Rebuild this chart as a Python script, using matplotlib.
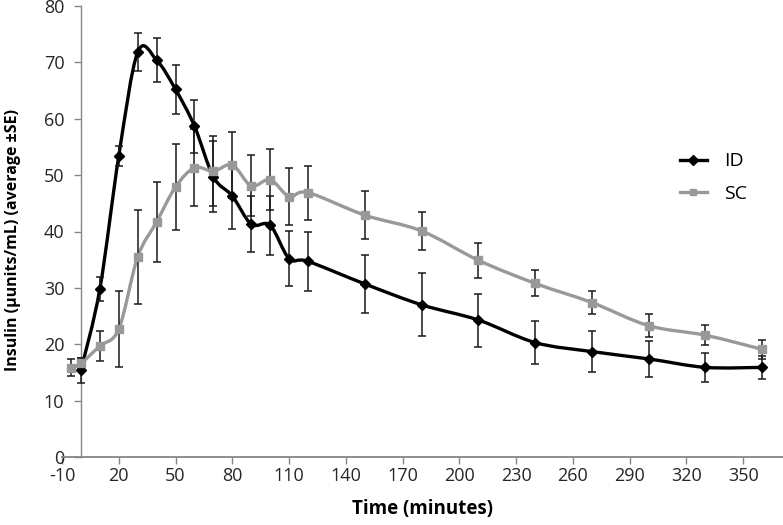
import numpy as np
import matplotlib
matplotlib.use('Agg')
import matplotlib.pyplot as plt
from matplotlib.path import Path
from matplotlib.patches import PathPatch
from matplotlib.lines import Line2D

plt.rcParams['font.family'] = ['Open Sans', 'DejaVu Sans']
plt.rcParams['axes.unicode_minus'] = False

BLACK = '#000000'
GREY = '#999999'
AXC = '#868686'

# ── Data ─────────────────────────────────────────────────────
id_time = [0, 10, 20, 30, 40, 50, 60, 70, 80, 90, 100, 110, 120,
           150, 180, 210, 240, 270, 300, 330, 360]
id_mean = [15.4, 29.8, 53.4, 71.8, 70.4, 65.2, 58.7, 49.7, 46.3, 41.3, 41.1,
           35.2, 34.7, 30.7, 27.0, 24.3, 20.3, 18.7, 17.4, 15.9, 15.9]
id_se = [2.2, 2.2, 1.8, 3.4, 3.9, 4.3, 4.7, 6.3, 5.8, 5.0, 5.2,
         4.9, 5.3, 5.2, 5.6, 4.7, 3.8, 3.7, 3.2, 2.6, 2.0]

sc_time = [-5, 0, 10, 20, 30, 40, 50, 60, 70, 80, 90, 100, 110, 120,
           150, 180, 210, 240, 270, 300, 330, 360]
sc_mean = [15.8, 16.6, 19.7, 22.7, 35.5, 41.7, 47.9, 51.3, 50.7, 51.8, 48.1,
           49.2, 46.2, 46.9, 42.9, 40.1, 34.9, 30.8, 27.4, 23.3, 21.6, 19.1]
sc_se = [1.5, 1.0, 2.7, 6.7, 8.3, 7.1, 7.6, 6.8, 6.2, 5.8, 5.4,
         5.4, 5.0, 4.8, 4.2, 3.4, 3.1, 2.3, 2.0, 2.0, 1.8, 1.7]

x_ticks = list(range(-10, 360, 30))
y_ticks = list(range(0, 81, 10))


def smooth_path(xs, ys):
    # Excel-style smoothed line as cubic Bezier segments (Catmull-Rom control points)
    p = np.column_stack([xs, ys]).astype(float)
    verts = [p[0]]
    codes = [Path.MOVETO]
    n = len(p)
    for i in range(n - 1):
        p0 = p[i - 1] if i > 0 else p[i]
        p3 = p[i + 2] if i + 2 < n else p[i + 1]
        c1 = p[i] + (p[i + 1] - p0) / 6.0
        c2 = p[i + 1] - (p3 - p[i]) / 6.0
        verts += [c1, c2, p[i + 1]]
        codes += [Path.CURVE4] * 3
    return Path(verts, codes)


fig = plt.figure(figsize=(7.83, 5.25), dpi=100)
ax = fig.add_axes([62 / 783, 68 / 525, 721 / 783, 451 / 525])

for t, m, s, col, mk, ms in [
    (id_time, id_mean, id_se, BLACK, 'D', 5.5),
    (sc_time, sc_mean, sc_se, GREY, 's', 6),
]:
    ax.add_patch(PathPatch(smooth_path(t, m), fill=False, edgecolor=col,
                           lw=2.4, zorder=2, capstyle='round', joinstyle='round'))
    ax.errorbar(t, m, yerr=s, fmt='none', ecolor='#1a1a1a', elinewidth=1.1,
                capsize=3.2, capthick=1.1, zorder=3)
    ax.plot(t, m, linestyle='none', marker=mk, color=col, markersize=ms, zorder=4)

ax.set_xlim(-10, 371)
ax.set_ylim(0, 80)
ax.set_xticks(x_ticks)
ax.set_yticks(y_ticks)

for side in ['top', 'right']:
    ax.spines[side].set_visible(False)
ax.spines['left'].set_position(('data', 0))
ax.spines['left'].set_color(AXC)
ax.spines['bottom'].set_color(AXC)
ax.spines['left'].set_linewidth(1.0)
ax.spines['bottom'].set_linewidth(1.3)
ax.tick_params(axis='both', colors=AXC, length=5, width=1, labelsize=13,
               labelcolor='#262626')
ax.tick_params(axis='x', pad=2)
ax.tick_params(axis='y', pad=7)

ax.set_xlabel('Time (minutes)', fontsize=13.5, fontweight='bold', labelpad=10)
fig.text(13 / 783, 1 - 240 / 525, 'Insulin (μunits/mL) (average ±SE)',
         rotation=90, ha='center', va='center', fontsize=11.5, fontweight='bold')

handles = [
    Line2D([], [], color=BLACK, lw=2.4, marker='D', markersize=5),
    Line2D([], [], color=GREY, lw=2.4, marker='s', markersize=5),
]
ax.legend(handles, ['ID', 'SC'], loc='upper left',
          bbox_to_anchor=(662 / 783, 1 - 135 / 525), bbox_transform=fig.transFigure,
          frameon=False, fontsize=14, handlelength=1.4, labelspacing=0.75,
          handletextpad=0.9)

fig.savefig('out.png', dpi=100)
